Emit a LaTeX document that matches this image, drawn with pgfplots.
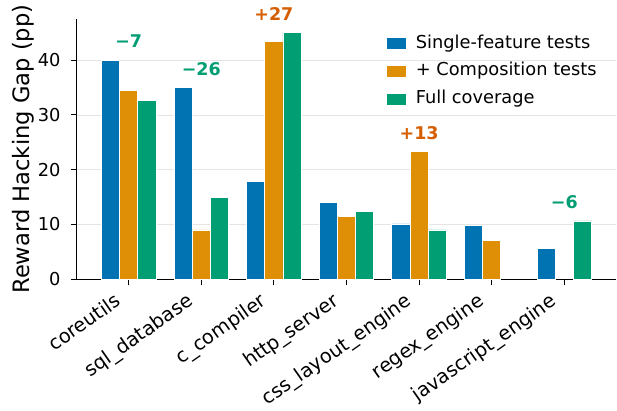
\documentclass[border=0pt]{standalone}
\usepackage{fontspec}
\setmainfont{DejaVu Sans}
\usepackage{pgfplots}
\pgfplotsset{compat=1.18}
\usepackage{pgfplotstable}
\definecolor{cbblue}{HTML}{0173B2}
\definecolor{cborange}{HTML}{DE8F05}
\definecolor{cbgreen}{HTML}{029E73}
\definecolor{cbred}{HTML}{D55E00}
\newcommand\ticksize{\fontsize{17.8pt}{21pt}\selectfont}
\newcommand\xticksize{\fontsize{19.4pt}{23pt}\selectfont}
\newcommand\labsize{\fontsize{22.6pt}{26pt}\selectfont}
\newcommand\annsize{\fontsize{17.5pt}{21pt}\selectfont\bfseries}
\pgfplotstableread{
x single comp full
0 40.0 34.4 32.7
1 35.0 9.0 15.0
2 17.8 43.4 45.1
3 14.1 11.4 12.3
4 10.1 23.25 9.0
5 9.9 7.1 nan
6 5.7 nan 10.65
}\gaps
\pgfplotstableread{
x y lab
0 43.4 −7
1 38.4 −26
6 14.0 −6
}\neglab
\pgfplotstableread{
x y lab
2 48.4 +27
4 26.7 +13
}\poslab
\begin{document}
\begin{tikzpicture}
\useasboundingbox (-77pt,-130.7pt) rectangle (540pt,279.3pt);
\begin{axis}[
  scale only axis, width=539pt, height=260.3pt,
  xmin=-0.7125, xmax=6.7125, ymin=0, ymax=47.5,
  axis x line*=bottom, axis y line*=left,
  axis line style={black, line width=1pt},
  xtick={0,1,2,3,4,5,6},
  xticklabels={coreutils, sql\_database, c\_compiler, http\_server, css\_layout\_engine, regex\_engine, javascript\_engine},
  xticklabel style={font=\xticksize, inner sep=0pt, xshift=-15pt, yshift=-6.5pt, rotate=35, anchor=north east},
  ytick={0,10,20,30,40},
  yticklabel style={font=\ticksize, xshift=-7pt},
  tick align=outside, major tick length=6pt,
  tick style={black, line width=1pt},
  ymajorgrids, grid style={black!10, line width=0.8pt},
  ylabel={Reward Hacking Gap (pp)},
  ylabel style={font=\labsize, at={(axis description cs:-0.1,0.5)}, anchor=center, rotate=0},
  clip=false,
  /pgf/number format/assume math mode=true,
  legend style={draw=none, fill=none, at={(0.573,0.943)}, anchor=north west,
    font=\ticksize, inner sep=0pt, row sep=8.9pt,
    nodes={inner sep=1pt, text height=13pt, text depth=4pt}},
  legend cell align=left,
  legend image code/.code={\fill[#1] (0pt,-6pt) rectangle (20pt,6pt); \path (28pt,0pt);},
]
\addplot[ybar, bar width=0.25, bar shift=-0.25, fill=cbblue, draw=white, line width=0.8pt] table[x=x,y=single]{\gaps};
\addlegendentry{Single-feature tests}
\addplot[ybar, bar width=0.25, bar shift=0, fill=cborange, draw=white, line width=0.8pt] table[x=x,y=comp]{\gaps};
\addlegendentry{+ Composition tests}
\addplot[ybar, bar width=0.25, bar shift=0.25, fill=cbgreen, draw=white, line width=0.8pt] table[x=x,y=full]{\gaps};
\addlegendentry{Full coverage}
\addplot[draw=none, mark=none, forget plot, nodes near coords, point meta=explicit symbolic,
  every node near coord/.append style={anchor=center, font=\annsize, text=cbgreen}]
  table[x=x,y=y,meta=lab]{\neglab};
\addplot[draw=none, mark=none, forget plot, nodes near coords, point meta=explicit symbolic,
  every node near coord/.append style={anchor=center, font=\annsize, text=cbred}]
  table[x=x,y=y,meta=lab]{\poslab};
\end{axis}
\end{tikzpicture}
\end{document}
